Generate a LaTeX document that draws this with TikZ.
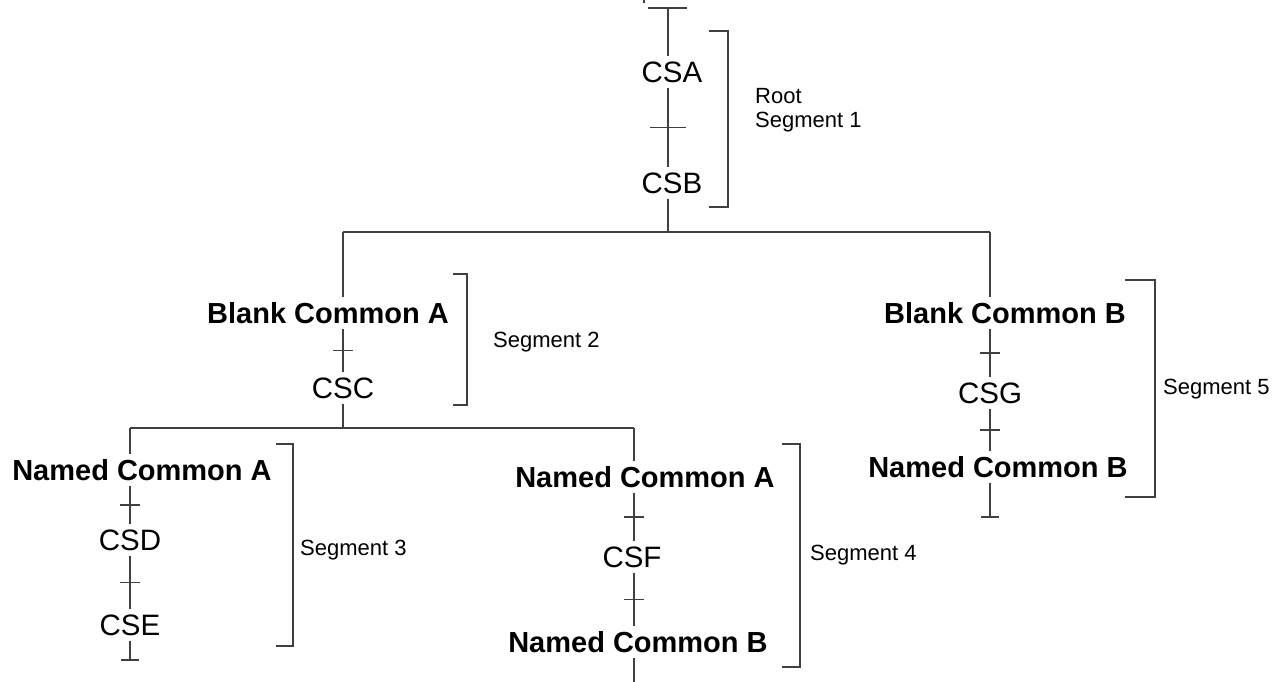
\documentclass[tikz,border=0pt]{standalone}
\usepackage{fontspec}
\setmainfont{Liberation Sans}
\tikzset{
  seg/.style={line width=1.2pt, draw=black!75},
  lbl/.style={font=\fontsize{29.5}{32}\selectfont, inner xsep=2pt, inner ysep=5pt,
              text height=21pt, text depth=0pt},
  lblb/.style={lbl, font=\fontsize{29}{32}\selectfont\bfseries},
  seglbl/.style={font=\fontsize{22}{24}\selectfont, inner sep=0pt, anchor=west,
                 text height=15pt, text depth=0pt},
  rootlbl/.style={font=\fontsize{22}{24}\selectfont, inner sep=0pt, anchor=west, align=left}
}
\begin{document}
\begin{tikzpicture}[x=1pt,y=-1pt]
    \useasboundingbox (0,0) rectangle (1287,682);
            %nodi ramo principale
            \node[lbl] (CSA) at (672,72) {CSA};
            \node[lbl] (CSB) at (672,183) {CSB};
            \coordinate (cima) at (668,8);
            \coordinate (nodo1) at (668,232);
            \coordinate (jA) at (343,232);
            \coordinate (jB) at (990,232);
            %disegno tratto iniziale
            \draw[seg] (644,0) -- (644,3);
            \draw[seg] (cima) ++(-20,0) --++ (39,0);
            \draw[seg] (cima) -- (CSA.north -| cima);
            \draw[seg] (CSA.south -| cima) -- coordinate (tAB) (CSB.north -| cima);
            \draw[seg] (tAB) ++(-18,0) --++ (36,0);
            \draw[seg] (CSB.south -| cima) -- (nodo1);
            %disegno diramazione
            \draw[seg] (jA) -- (jB);
            %ramo sinistro
            \node[lblb] (BCA) at (328,313) {Blank Common A};
            \node[lbl] (CSC) at (343,388) {CSC};
            \coordinate (nodo2) at (343,428);
            \coordinate (kA) at (130,428);
            \coordinate (kB) at (634,428);
            \draw[seg] (jA) -- (BCA.north -| jA);
            \draw[seg] (BCA.south -| CSC) -- coordinate (tAC) (CSC);
            \draw[seg] (tAC) ++(-10,0) --++ (20,0);
            \draw[seg] (CSC) -- (nodo2);
            \draw[seg] (kA) -- (kB);
            %segmento 3
            \node[lblb] (NCA1) at (142,470) {Named Common A};
            \node[lbl] (CSD) at (130,540) {CSD};
            \node[lbl] (CSE) at (130,625) {CSE};
            \coordinate (fineE) at (130,660);
            \draw[seg] (kA) -- (NCA1.north -| kA);
            \draw[seg] (NCA1.south -| CSD) -- coordinate (tAD) (CSD);
            \draw[seg] (tAD) ++(-10,0) --++ (20,0);
            \draw[seg] (CSD) -- coordinate (tDE) (CSE);
            \draw[seg] (tDE) ++(-10,0) --++ (20,0);
            \draw[seg] (CSE) -- (fineE);
            \draw[seg] (fineE) ++(-9,0) --++ (18,0);
            %segmento 4
            \node[lblb] (NCA2) at (645,477) {Named Common A};
            \node[lbl] (CSF) at (632,557) {CSF};
            \node[lblb] (NCB2) at (638,642) {Named Common B};
            \coordinate (fineF) at (634,682);
            \draw[seg] (kB) -- (NCA2.north -| kB);
            \draw[seg] (NCA2.south -| kB) -- coordinate (tAF) (CSF.north -| kB);
            \draw[seg] (tAF) ++(-10,0) --++ (20,0);
            \draw[seg] (CSF.south -| kB) -- coordinate (tFB) (NCB2.north -| kB);
            \draw[seg] (tFB) ++(-10,0) --++ (20,0);
            \draw[seg] (NCB2.south -| kB) -- (fineF);
            %ramo destro, segmento 5
            \node[lblb] (BCB) at (1005,313) {Blank Common B};
            \node[lbl] (CSG) at (990,393) {CSG};
            \node[lblb] (NCB3) at (998,467) {Named Common B};
            \coordinate (fineG) at (990,517);
            \draw[seg] (jB) -- (BCB.north -| jB);
            \draw[seg] (BCB.south -| CSG) -- coordinate (tBG) (CSG);
            \draw[seg] (tBG) ++(-10,0) --++ (20,0);
            \draw[seg] (CSG) -- coordinate (tGB) (NCB3.north -| CSG);
            \draw[seg] (tGB) ++(-10,0) --++ (20,0);
            \draw[seg] (NCB3.south -| CSG) -- (fineG);
            \draw[seg] (fineG) ++(-9,0) --++ (18,0);
            %disegno parentesi dei segmenti
            \draw[seg] (709,31) -- (728,31) -- (728,207) -- (709,207);
            \node[rootlbl] (seg1) at (755,110) {Root\\Segment 1};
            \draw[seg] (453,274) -- (467,274) -- (467,405) -- (453,405);
            \node[seglbl] (seg2) at (493,340) {Segment 2};
            \draw[seg] (276,444) -- (293,444) -- (293,646) -- (276,646);
            \node[seglbl] (seg3) at (300,548) {Segment 3};
            \draw[seg] (782,444) -- (800,444) -- (800,667) -- (782,667);
            \node[seglbl] (seg4) at (810,553) {Segment 4};
            \draw[seg] (1125,280) -- (1155,280) -- (1155,497) -- (1125,497);
            \node[seglbl] (seg5) at (1163,387) {Segment 5};
    \end{tikzpicture}
\end{document}
